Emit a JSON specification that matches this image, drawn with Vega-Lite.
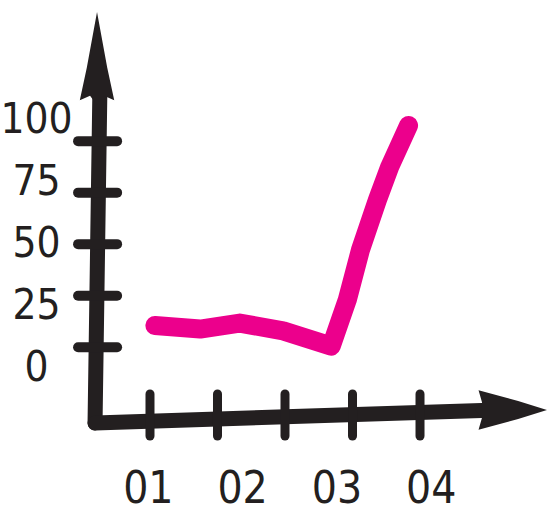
{
  "$schema": "https://vega.github.io/schema/vega-lite/v6.json",
  "width": 548,
  "height": 514,
  "padding": 0,
  "autosize": {"type": "fit", "contains": "padding"},
  "background": "white",
  "config": {"view": {"stroke": null}},
  "datasets": {
    "yticks": [
      {"value": 0, "label": "0"},
      {"value": 25, "label": "25"},
      {"value": 50, "label": "50"},
      {"value": 75, "label": "75"},
      {"value": 100, "label": "100"}
    ],
    "xticks": [{"i": 1}, {"i": 2}, {"i": 3}, {"i": 4}, {"i": 5}],
    "xlabels": [
      {"n": 1, "label": "01"},
      {"n": 2, "label": "02"},
      {"n": 3, "label": "03"},
      {"n": 4, "label": "04"}
    ],
    "series": [
      {"x": 1.07, "y": 10.5},
      {"x": 1.55, "y": 8.8},
      {"x": 1.97, "y": 11.7},
      {"x": 2.43, "y": 7.9},
      {"x": 2.94, "y": 0.5},
      {"x": 3.11, "y": 22.9},
      {"x": 3.25, "y": 47.2},
      {"x": 3.43, "y": 71.5},
      {"x": 3.56, "y": 87.5},
      {"x": 3.76, "y": 107.6}
    ]
  },
  "resolve": {"scale": {"x": "independent", "y": "independent"}},
  "layer": [
    {
      "data": {"values": [{}]},
      "mark": {"type": "rule", "color": "#231f20", "strokeWidth": 15, "strokeCap": "round"},
      "encoding": {
        "x": {"datum": 0.488, "type": "quantitative", "scale": {"domain": [-0.573, 5.239], "nice": false, "zero": false}, "axis": null},
        "y": {"datum": 129.7, "type": "quantitative", "scale": {"domain": [-80.97, 168.5], "nice": false, "zero": false}, "axis": null},
        "x2": {"datum": 0.435},
        "y2": {"datum": -36.8}
      }
    },
    {
      "data": {"values": [{}]},
      "mark": {"type": "rule", "color": "#231f20", "strokeWidth": 15, "strokeCap": "round"},
      "encoding": {
        "x": {"datum": 0.435, "type": "quantitative", "scale": {"domain": [-0.573, 5.239], "nice": false, "zero": false}, "axis": null},
        "y": {"datum": -36.8, "type": "quantitative", "scale": {"domain": [-80.97, 168.5], "nice": false, "zero": false}, "axis": null},
        "x2": {"datum": 4.7},
        "y2": {"datum": -30.5}
      }
    },
    {
      "data": {"values": [{}]},
      "mark": {"type": "point", "filled": true, "color": "#231f20", "opacity": 1, "size": 8649, "shape": "M0,-1L0.22,0.2L0.37,0.9L0.15,0.8L0,1L-0.15,0.8L-0.37,0.9L-0.22,0.2Z"},
      "encoding": {
        "x": {"datum": 0.456, "type": "quantitative", "scale": {"domain": [-0.573, 5.239], "nice": false, "zero": false}, "axis": null},
        "y": {"datum": 140.1, "type": "quantitative", "scale": {"domain": [-80.97, 168.5], "nice": false, "zero": false}, "axis": null}
      }
    },
    {
      "data": {"values": [{}]},
      "mark": {"type": "point", "filled": true, "color": "#231f20", "opacity": 1, "size": 5184, "shape": "M1,0L0.2,-0.25L-0.9,-0.55L-0.8,-0.2L-1,0L-0.8,0.2L-0.9,0.55L0.2,0.25Z"},
      "encoding": {
        "x": {"datum": 4.846, "type": "quantitative", "scale": {"domain": [-0.573, 5.239], "nice": false, "zero": false}, "axis": null},
        "y": {"datum": -30.5, "type": "quantitative", "scale": {"domain": [-80.97, 168.5], "nice": false, "zero": false}, "axis": null}
      }
    },
    {
      "data": {"name": "yticks"},
      "mark": {"type": "rule", "color": "#231f20", "strokeWidth": 10, "strokeCap": "round"},
      "encoding": {
        "y": {"field": "value", "type": "quantitative", "scale": {"domain": [-80.97, 168.5], "nice": false, "zero": false}, "axis": null},
        "x": {"datum": 0.255, "type": "quantitative", "scale": {"domain": [-0.573, 5.239], "nice": false, "zero": false}, "axis": null},
        "x2": {"datum": 0.669}
      }
    },
    {
      "data": {"name": "yticks"},
      "mark": {"type": "text", "color": "#231f20", "font": "DejaVu Sans Condensed, sans-serif", "fontSize": 42, "align": "center", "baseline": "middle"},
      "encoding": {
        "y": {"field": "value", "type": "quantitative", "scale": {"domain": [-58.87, 148.39], "nice": false, "zero": false}, "axis": null},
        "x": {"datum": -0.185, "type": "quantitative", "scale": {"domain": [-0.573, 5.239], "nice": false, "zero": false}, "axis": null},
        "text": {"field": "label"}
      }
    },
    {
      "data": {"name": "xticks"},
      "mark": {"type": "rule", "color": "#231f20", "strokeWidth": 9, "strokeCap": "round"},
      "encoding": {
        "x": {"field": "i", "type": "quantitative", "scale": {"domain": [-1.222, 6.896], "nice": false, "zero": false}, "axis": null},
        "y": {"datum": -22.7, "type": "quantitative", "scale": {"domain": [-80.97, 168.5], "nice": false, "zero": false}, "axis": null},
        "y2": {"datum": -43.1}
      }
    },
    {
      "data": {"name": "xlabels"},
      "mark": {"type": "text", "color": "#231f20", "font": "DejaVu Sans Condensed, sans-serif", "fontSize": 44, "align": "center", "baseline": "middle"},
      "encoding": {
        "x": {"field": "n", "type": "quantitative", "scale": {"domain": [-0.573, 5.239], "nice": false, "zero": false}, "axis": null},
        "y": {"datum": -69.3, "type": "quantitative", "scale": {"domain": [-80.97, 168.5], "nice": false, "zero": false}, "axis": null},
        "text": {"field": "label"}
      }
    },
    {
      "data": {"name": "series"},
      "mark": {"type": "line", "color": "#ec008c", "strokeWidth": 19, "strokeCap": "round", "strokeJoin": "round"},
      "encoding": {
        "x": {"field": "x", "type": "quantitative", "scale": {"domain": [-0.573, 5.239], "nice": false, "zero": false}, "axis": null},
        "y": {"field": "y", "type": "quantitative", "scale": {"domain": [-80.97, 168.5], "nice": false, "zero": false}, "axis": null}
      }
    }
  ]
}
